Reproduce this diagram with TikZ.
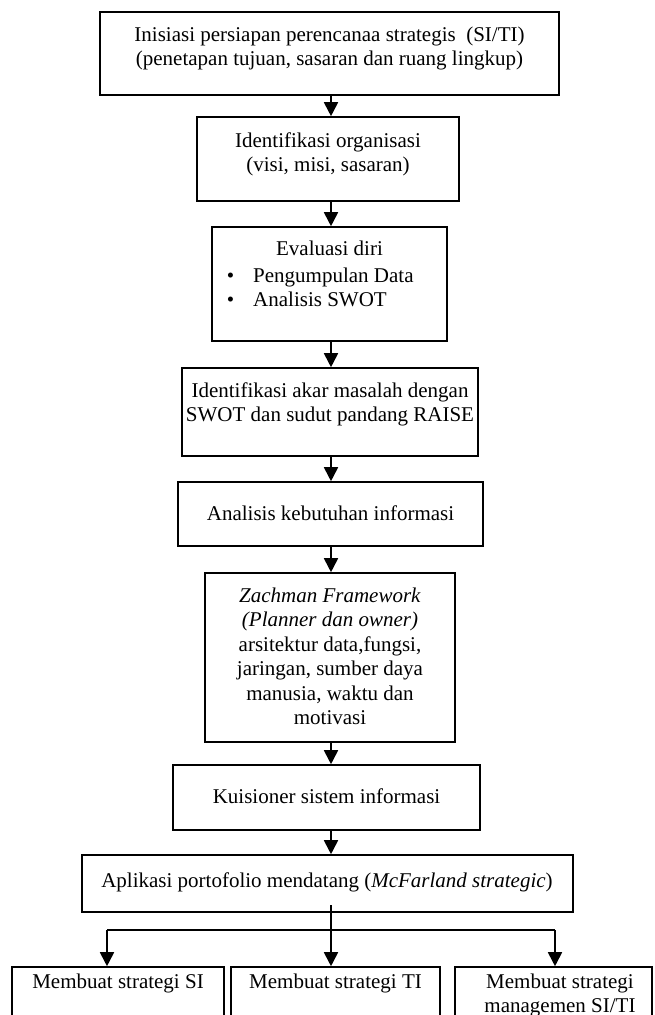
\documentclass[tikz,border=0pt]{standalone}
\usepackage{fontspec}
\setmainfont{Liberation Serif}
\usetikzlibrary{arrows.meta,fit}
\begin{document}
\begin{tikzpicture}[x=1pt,y=-1pt,
  box/.style={draw, line width=1.6pt, rectangle, inner sep=0pt},
  txt/.style={font=\fontsize{21}{24.5}\selectfont, align=center, inner sep=0pt, anchor=base},
  arr/.style={line width=1.8pt, -{Triangle[width=14pt,length=14pt]}},
  ln/.style={line width=1.8pt}]
\useasboundingbox (0,0) rectangle (654,1015);
\clip (0,0) rectangle (654,1015);
% boxes
\node[box, fit={(100,12) (559,95)}] (b1) {};
\node[box, fit={(197,117) (459,201)}] (b2) {};
\node[box, fit={(212,227) (447,341)}] (b3) {};
\node[box, fit={(182,368) (478,456)}] (b4) {};
\node[box, fit={(178,482) (483,546)}] (b5) {};
\node[box, fit={(205,573) (455,742)}] (b6) {};
\node[box, fit={(173,765) (480,830)}] (b7) {};
\node[box, fit={(82,855) (573,912)}] (b8) {};
\node[box, fit={(12,967) (224,1040)}] (bA) {};
\node[box, fit={(231,967) (440,1040)}] (bB) {};
\node[box, fit={(455,967) (652,1040)}] (bC) {};
% texts (anchor = baseline of the last line)
\node[txt] (t1) at (329.5,65.5) {Inisiasi persiapan perencanaa strategis\ \ (SI/TI)\\(penetapan tujuan, sasaran dan ruang lingkup)};
\node[txt] (t2) at (328,171.5) {Identifikasi organisasi\\(visi, misi, sasaran)};
\node[txt] (t3) at (329.5,255) {Evaluasi diri};
\node[txt, anchor=base west, align=left] (t3b) at (253,306.5) {\llap{\textbullet\hspace{19pt}}Pengumpulan Data\\\llap{\textbullet\hspace{19pt}}Analisis SWOT};
\node[txt] (t4) at (330,421.5) {Identifikasi akar masalah dengan\\SWOT dan sudut pandang RAISE};
\node[txt] (t5) at (330.5,520) {Analisis kebutuhan informasi};
\node[txt] (t6) at (330,724.5) {\textit{Zachman Framework}\\\textit{(Planner dan owner)}\\arsitektur data,fungsi,\\jaringan, sumber daya\\manusia, waktu dan\\motivasi};
\node[txt] (t7) at (326.5,803) {Kuisioner sistem informasi};
\node[txt] (t8) at (327,887) {Aplikasi portofolio mendatang (\textit{McFarland strategic})};
\node[txt] (tA) at (118,988) {Membuat strategi SI};
\node[txt] (tB) at (335.5,988) {Membuat strategi TI};
\node[txt] (tC) at (560,1012.5) {Membuat strategi\\managemen SI/TI};
% connectors
\coordinate (ax) at (331,0);
\draw[arr] (b1.south -| ax) -- (b2.north -| ax);
\draw[arr] (b2.south -| ax) -- (b3.north -| ax);
\draw[arr] (b3.south -| ax) -- (b4.north -| ax);
\draw[arr] (b4.south -| ax) -- (b5.north -| ax);
\draw[arr] (b5.south -| ax) -- (b6.north -| ax);
\draw[arr] (b6.south -| ax) -- (b7.north -| ax);
\draw[arr] (b7.south -| ax) -- (b8.north -| ax);
\coordinate (sp) at (331,905);
\coordinate (hl) at (107,930);
\coordinate (hr) at (555,930);
\draw[arr] (sp) -- (bB.north -| sp);
\draw[ln] (hl) -- (hr);
\draw[arr] (hl) -- (bA.north -| hl);
\draw[arr] (hr) -- (bC.north -| hr);
\end{tikzpicture}
\end{document}
